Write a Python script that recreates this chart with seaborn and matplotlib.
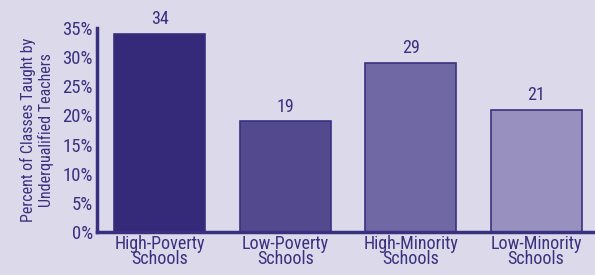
import matplotlib
matplotlib.use("Agg")
import matplotlib.pyplot as plt
import seaborn as sns
import pandas as pd

categories = ["High-Poverty\nSchools", "Low-Poverty\nSchools", "High-Minority\nSchools", "Low-Minority\nSchools"]
values = [34, 19, 29, 21]
bar_colors = ["#352a7a", "#53498f", "#7068a4", "#9891bf"]
y_ticks = [0, 5, 10, 15, 20, 25, 30, 35]

bg = "#dcdaea"
ink = "#3a3080"

sns.set_style("white")
plt.rcParams['font.family'] = ['Roboto Condensed', 'DejaVu Sans']

df = pd.DataFrame({"category": categories, "value": values})

fig = plt.figure(figsize=(5.95, 2.75), dpi=100, facecolor=bg)
ax = fig.add_axes([0.163, 0.156, 0.837, 0.742])
ax.set_facecolor(bg)

sns.barplot(data=df, x="category", y="value", hue="category", palette=bar_colors,
            legend=False, width=0.725, edgecolor=ink, linewidth=1.2, ax=ax, saturation=1)

for i, v in enumerate(values):
    ax.text(i, v + 1.0, str(v), ha="center", va="bottom", fontsize=13, color=ink)

ax.set_xlim(-0.5, 3.47)
ax.set_ylim(0, 35)
ax.set_yticks(y_ticks)
ax.set_yticklabels([f"{t}%" for t in y_ticks], fontsize=13.5, color=ink)
ax.set_xticks(range(4))
ax.set_xticklabels(categories, fontsize=13, color=ink, linespacing=0.8)
ax.set_xticks([0.5, 1.5, 2.5], minor=True)
ax.tick_params(axis="y", direction="in", length=8.5, width=2, color=ink, pad=3)
ax.tick_params(axis="x", which="major", length=0, pad=2)
ax.tick_params(axis="x", which="minor", direction="in", length=4, width=2, color=ink)
ax.set_xlabel("")
ax.set_ylabel("Percent of Classes Taught by\nUnderqualified Teachers", fontsize=11.5, color=ink,
              linespacing=1.15, labelpad=6)

for side in ["top", "right"]:
    ax.spines[side].set_visible(False)
for side in ["left", "bottom"]:
    ax.spines[side].set_color(ink)
    ax.spines[side].set_linewidth(2.5)

fig.savefig("out.png", dpi=100, facecolor=bg)
